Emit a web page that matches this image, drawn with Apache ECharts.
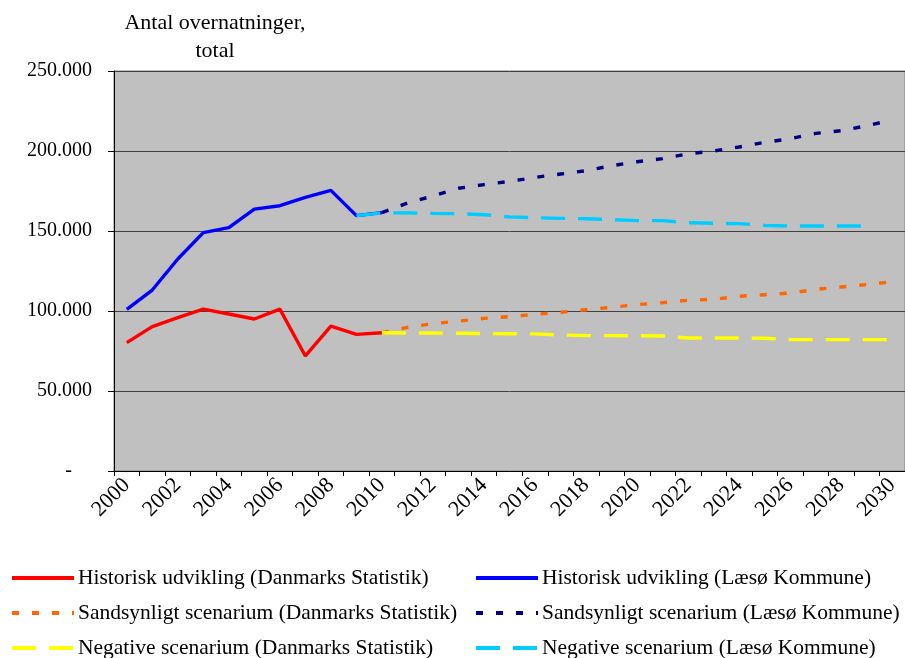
<!DOCTYPE html>
<html>
<head>
<meta charset="utf-8">
<script src="https://cdn.jsdelivr.net/npm/echarts@6/dist/echarts.min.js"></script>
<style>
  html, body { margin: 0; padding: 0; background: #fff; }
  #chart { width: 905px; height: 658px; }
</style>
</head>
<body>
<div id="chart"></div>
<script>
const years = [];
for (let y = 2000; y <= 2030; y++) years.push(String(y));

const yTicks = [0, 50000, 100000, 150000, 200000, 250000];

// historisk 2000-2010
const histDS = [80200, 90200, 95800, 101200, 98100, 95000, 101200, 71900, 90600, 85400, 86400];
const histLK = [101000, 113100, 132500, 149000, 152100, 163700, 165800, 171000, 175400, 159600, 161500];

// scenarier 2010-2030
const sandsDS = [86400, 89800, 92100, 93700, 95400, 96500, 97900, 99200, 100800, 102300, 104000,
  105200, 106700, 107300, 109200, 110200, 111200, 113500, 115000, 116500, 118300];
const sandsLK = [161500, 167500, 171900, 176700, 179000, 181000, 183500, 185600, 187700, 190800, 193300,
  195200, 198300, 200000, 202500, 205400, 207700, 211000, 212700, 215800, 219400];
const negDS = [86400, 86250, 86250, 86100, 85900, 85800, 85700, 85000, 84600, 84600, 84500,
  84400, 83100, 83100, 83100, 83000, 82100, 82100, 82100, 82100, 82100];
// Læsø negativ starter i 2009, slutter 2029
const negLK = [159600, 161300, 161300, 161000, 160800, 160200, 158800, 158300, 157900, 157700, 157100,
  156500, 156500, 155200, 154800, 154600, 153500, 153100, 153100, 153100, 153100];

const names = {
  histDS: 'Historisk udvikling (Danmarks Statistik)',
  histLK: 'Historisk udvikling (Læsø Kommune)',
  sandsDS: 'Sandsynligt scenarium (Danmarks Statistik)',
  sandsLK: 'Sandsynligt scenarium (Læsø Kommune)',
  negDS: 'Negative scenarium (Danmarks Statistik)',
  negLK: 'Negative scenarium (Læsø Kommune)',
};

// put values onto the year axis, starting at a given year
function place(values, startYear) {
  const out = years.map(() => null);
  values.forEach((v, i) => { out[startYear - 2000 + i] = v; });
  return out;
}

const FONT = '"Liberation Serif", "Times New Roman", serif';

function line(name, data, color, type, z) {
  return {
    name: name,
    type: 'line',
    data: data,
    symbol: 'none',
    connectNulls: false,
    z: z,
    lineStyle: { color: color, width: 3.4, type: type },
    itemStyle: { color: color },
  };
}

function legendCol(left, data) {
  return {
    orient: 'vertical', left: left, top: 567, height: 120, padding: 0, itemGap: 13,
    itemWidth: 62, itemHeight: 20,
    itemStyle: { opacity: 0 },
    lineStyle: { width: 4 },
    data: data,
    textStyle: { fontFamily: FONT, fontSize: 21.5, lineHeight: 22, color: '#000', padding: [0, 0, 0, -1] },
  };
}

const chart = echarts.init(document.getElementById('chart'), null, { renderer: 'canvas' });

chart.setOption({
  animation: false,
  backgroundColor: '#ffffff',
  textStyle: { fontFamily: FONT },
  title: {
    text: 'Antal overnatninger,\ntotal',
    left: 210,
    top: 4,
    textAlign: 'center',
    textStyle: { fontFamily: FONT, fontSize: 22, fontWeight: 'normal', color: '#000', lineHeight: 28 },
  },
  grid: {
    left: 114, top: 71, right: -3, bottom: 187,
    show: true, backgroundColor: '#c0c0c0', borderColor: '#808080', borderWidth: 1,
  },
  legend: [
    legendCol(10, [names.histDS, names.sandsDS, names.negDS]),
    legendCol(474, [names.histLK, names.sandsLK, names.negLK]),
  ],
  xAxis: {
    type: 'category',
    data: years,
    boundaryGap: true,
    axisLine: { lineStyle: { color: '#000', width: 1 } },
    axisTick: { show: true, interval: 0, length: 5, inside: false, lineStyle: { color: '#000' } },
    axisLabel: {
      interval: 1, rotate: 45, margin: 11,
      fontFamily: FONT, fontSize: 22, color: '#000',
    },
    splitLine: { show: false },
  },
  yAxis: {
    type: 'value',
    min: yTicks[0],
    max: yTicks[yTicks.length - 1],
    interval: 50000,
    axisLine: { show: true, lineStyle: { color: '#000', width: 1 } },
    axisTick: { show: true, length: 6, lineStyle: { color: '#000' } },
    axisLabel: {
      margin: 22, fontFamily: FONT, fontSize: 20, color: '#000',
      formatter: v => v === 0 ? '-    ' : (v / 1000) + '.000',
    },
    splitLine: { show: true, lineStyle: { color: '#404040', width: 1 } },
  },
  series: [
    line(names.histDS, place(histDS, 2000), '#ff0000', 'solid', 2),
    line(names.histLK, place(histLK, 2000), '#0000ff', 'solid', 2),
    line(names.sandsDS, place(sandsDS, 2010), '#ff6600', [7, 13], 3),
    line(names.sandsLK, place(sandsLK, 2010), '#000080', [7, 13], 3),
    line(names.negDS, place(negDS, 2010), '#ffff00', [24, 13], 4),
    line(names.negLK, place(negLK, 2009), '#00ccff', [24, 13], 4),
  ],
});
</script>
</body>
</html>
